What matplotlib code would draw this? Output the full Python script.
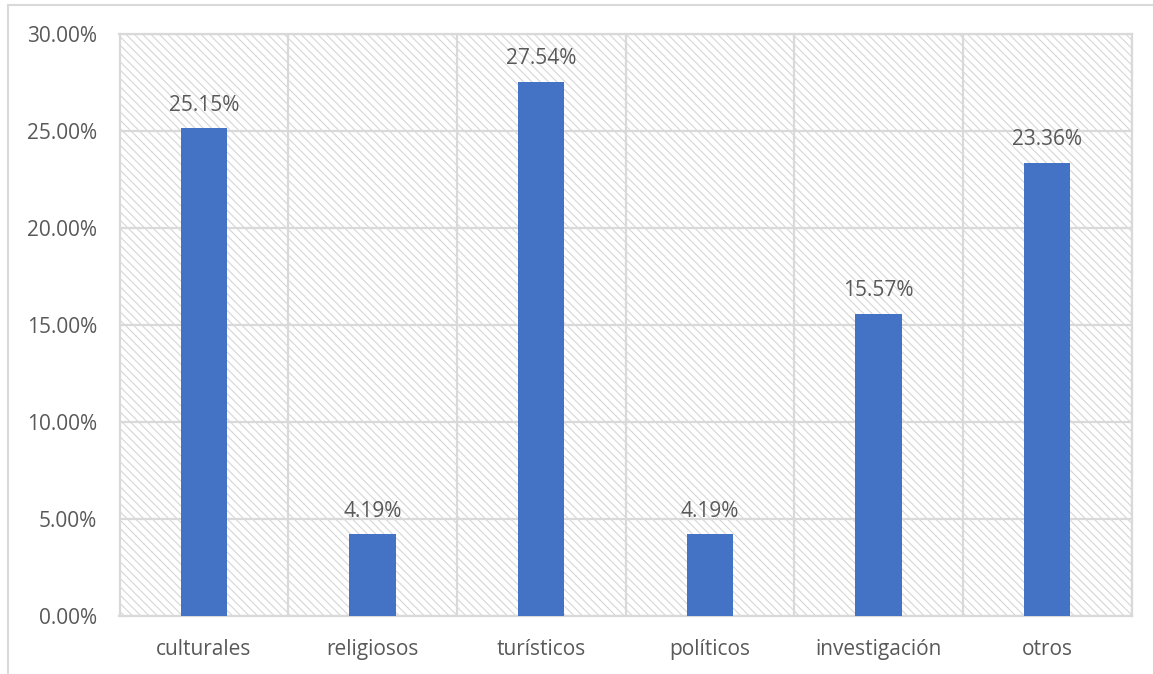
import matplotlib
matplotlib.use("Agg")
import matplotlib.pyplot as plt
from matplotlib.patches import Rectangle
from matplotlib.ticker import FuncFormatter, MultipleLocator

categories = ["culturales", "religiosos", "turísticos", "políticos", "investigación", "otros"]
values = [25.15, 4.19, 27.54, 4.19, 15.57, 23.36]
labels = ["25.15%", "4.19%", "27.54%", "4.19%", "15.57%", "23.36%"]

plt.rcParams['font.family'] = ['Open Sans', 'DejaVu Sans']
plt.rcParams['hatch.linewidth'] = 0.8
text_color = '#595959'
grid_color = '#d9d9d9'
hatch_color = '#d6d6d6'
bar_color = '#4472c4'

W, H = 1153, 674
fig = plt.figure(figsize=(W / 100, H / 100), dpi=100)
fig.patch.set_facecolor('white')

# outer chart frame
fig.add_artist(Rectangle((8 / W, -0.1), 1.2, (H - 5) / H + 0.1, transform=fig.transFigure,
                         fill=False, edgecolor=grid_color, linewidth=1.5))

ax = fig.add_axes([119.5 / W, (H - 615.5) / H, (1131.5 - 119.5) / W, (615.5 - 34) / H])
ax.set_xlim(-0.5, len(categories) - 0.5)
ax.set_ylim(0, 30)

# hatched plot background
ax.add_patch(Rectangle((0, 0), 1, 1, transform=ax.transAxes, facecolor='white',
                       edgecolor=hatch_color, hatch='\\\\\\\\', linewidth=0, zorder=0))

x = list(range(len(categories)))
ax.bar(x, values, width=0.273, color=bar_color, zorder=3)

for xi, v, lab in zip(x, values, labels):
    ax.annotate(lab, (xi, v), xytext=(0, 9), textcoords='offset points',
                ha='center', va='bottom', fontsize=15, color=text_color, zorder=4)

ax.yaxis.set_major_locator(MultipleLocator(5))
ax.yaxis.set_major_formatter(FuncFormatter(lambda v, p: f"{v:.2f}%"))
ax.set_xticks(x)
ax.set_xticklabels(categories)
ax.tick_params(axis='both', length=0, labelsize=15, labelcolor=text_color)
ax.tick_params(axis='x', pad=17)
ax.tick_params(axis='y', pad=16)

ax.set_axisbelow(True)
ax.grid(axis='y', color=grid_color, linewidth=1.6, zorder=1)
for b in [i + 0.5 for i in range(-1, len(categories))]:
    ax.axvline(b, color=grid_color, linewidth=1.6, zorder=1)
for s in ax.spines.values():
    s.set_color(grid_color)
    s.set_linewidth(1.6)

fig.savefig("out.png", dpi=100, facecolor='white')
